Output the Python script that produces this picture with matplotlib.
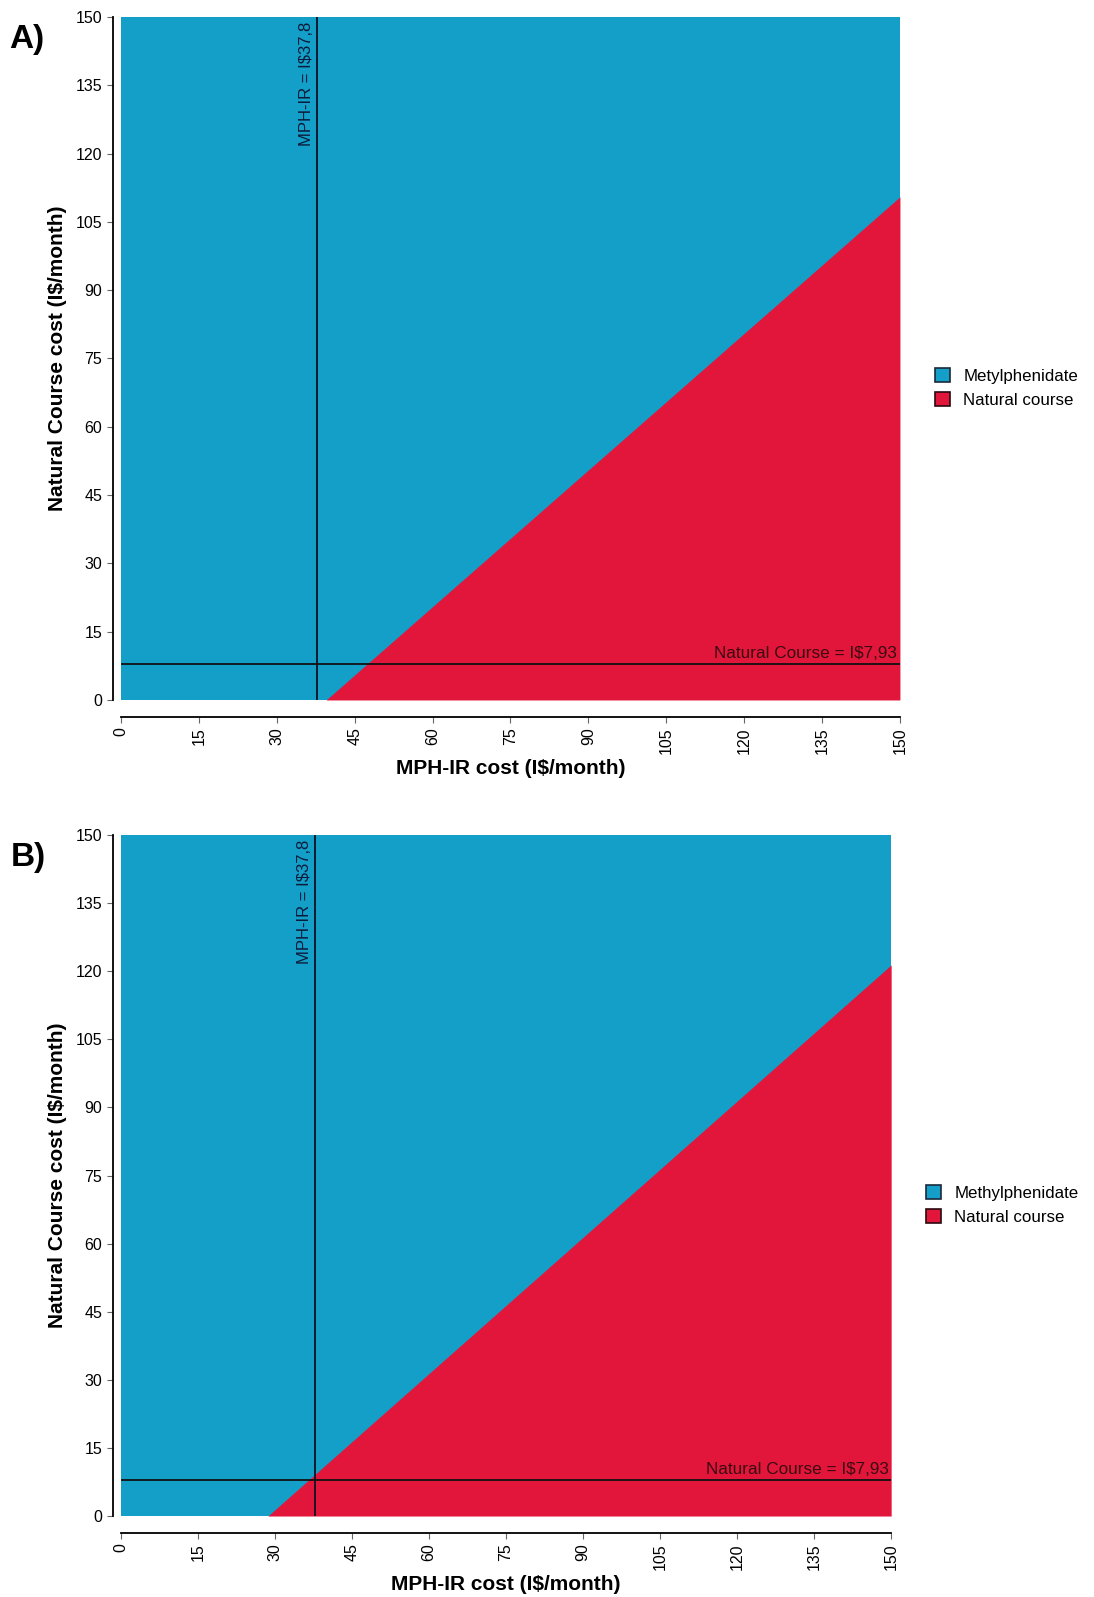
import matplotlib.pyplot as plt
from matplotlib.patches import Patch

plt.rcParams['font.family'] = ['Liberation Sans', 'DejaVu Sans']

# eixos e ticks
ticks = [0, 15, 30, 45, 60, 75, 90, 105, 120, 135, 150]

# limiar entre as duas estrategias (custo MPH-IR, custo curso natural)
limiar_a_x = [39.5, 150]
limiar_a_y = [0, 110.5]
limiar_b_x = [28.6, 150]
limiar_b_y = [0, 121.4]

mph_ir = 37.8
curso_natural = 7.93

legenda_a = ["Metylphenidate", "Natural course"]
legenda_b = ["Methylphenidate", "Natural course"]

azul = "#139fc7"
vermelho = "#e2163b"

fig = plt.figure(figsize=(10.94, 15.97), dpi=100)
ax_a = fig.add_axes([0.1106, 0.5617, 0.712, 0.4277])
ax_b = fig.add_axes([0.1106, 0.0507, 0.704, 0.4264])

paineis = [
    (ax_a, "A)", limiar_a_x, limiar_a_y, legenda_a),
    (ax_b, "B)", limiar_b_x, limiar_b_y, legenda_b),
]

for ax, letra, lx, ly, nomes in paineis:
    ax.set_xlim(0, 150)
    ax.set_ylim(0, 150)
    ax.set_facecolor(azul)
    # regiao vermelha abaixo do limiar
    ax.fill_between(lx, [0, 0], ly, color=vermelho, lw=0)

    ax.axvline(mph_ir, color="#111122", lw=1.3)
    ax.axhline(curso_natural, color="#111111", lw=1.3)
    ax.text(mph_ir - 0.6, 149, "MPH-IR = I\\$37,8", rotation=90, ha="right", va="top",
            fontsize=12, color="#0d1a3a")
    ax.text(149.5, curso_natural + 0.6, "Natural Course = I\\$7,93", ha="right", va="bottom",
            fontsize=12.3, color="#3a0a10")

    ax.set_xticks(ticks)
    ax.set_yticks(ticks)
    ax.tick_params(axis="x", labelrotation=90, labelsize=11.5, length=4, color="#666666")
    ax.tick_params(axis="y", labelsize=11.5, length=4, color="#666666")
    for s in ["top", "right"]:
        ax.spines[s].set_visible(False)
    ax.spines["left"].set_position(("outward", 6))
    ax.spines["bottom"].set_position(("outward", 12))
    ax.spines["left"].set_linewidth(1.3)
    ax.spines["bottom"].set_linewidth(1.3)

    ax.set_xlabel("MPH-IR cost (I\\$/month)", fontsize=15, fontweight="bold", labelpad=4)
    ax.set_ylabel("Natural Course cost (I\\$/month)", fontsize=15, fontweight="bold", labelpad=6)

    ax.text(-0.143, 0.99, letra, transform=ax.transAxes, fontsize=24, fontweight="bold",
            ha="left", va="top")

    handles = [Patch(facecolor=azul, edgecolor="#1a2a3a", lw=1.2),
               Patch(facecolor=vermelho, edgecolor="#2a0a10", lw=1.2)]
    ax.legend(handles, nomes, loc="center left", bbox_to_anchor=(1.025, 0.457),
              frameon=False, fontsize=12.2, handlelength=0.9, handleheight=0.9,
              handletextpad=0.8, labelspacing=0.5)

fig.savefig("out.png", dpi=100)
